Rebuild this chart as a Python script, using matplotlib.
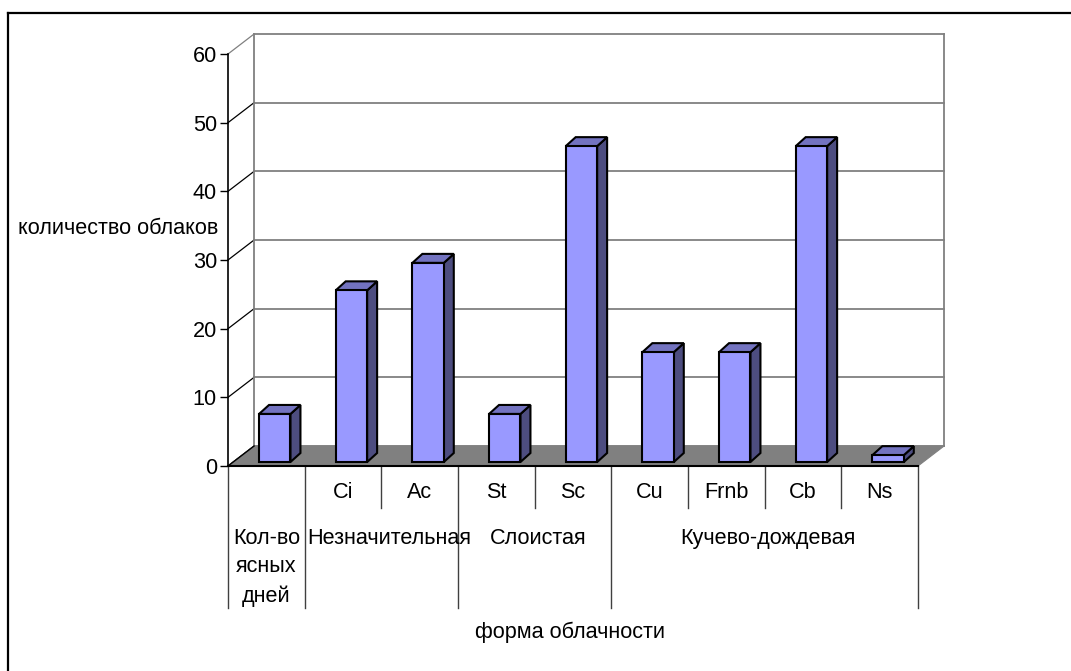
import matplotlib.pyplot as plt
from matplotlib.patches import Polygon

plt.rcParams['font.family'] = ['Liberation Sans', 'DejaVu Sans']

# облачность по формам
categories = ['', 'Ci', 'Ac', 'St', 'Sc', 'Cu', 'Frnb', 'Cb', 'Ns']
values = [7, 25, 29, 7, 46, 16, 16, 46, 1]
groups = ['Кол-во\nясных\nдней', 'Незначительная', 'Слоистая', 'Кучево-дождевая']
group_sizes = [1, 2, 2, 4]
yticks = [0, 10, 20, 30, 40, 50, 60]

W, H = 1071, 671
fig = plt.figure(figsize=(W / 100, H / 100), dpi=100)
fig.patch.set_facecolor('white')
fs = 15.6

# передняя плоскость диаграммы
ax = fig.add_axes([228 / W, (H - 466) / H, 690 / W, 412 / H])
ax.set_xlim(0, len(categories))
ax.set_ylim(0, 60)
ax.patch.set_alpha(0)
for s in ['top', 'right']:
    ax.spines[s].set_visible(False)
ax.spines['left'].set_color('black')
ax.spines['left'].set_linewidth(1.2)
ax.spines['bottom'].set_color('black')
ax.spines['bottom'].set_linewidth(1.5)
ax.spines['bottom'].set_zorder(6)
ax.set_xticks([])
ax.set_yticks(yticks)
ax.tick_params(axis='y', direction='out', length=6, width=1, pad=2, labelsize=fs)

n = len(categories)
DX, DY = 0.34, 2.91  # глубина стенок
gray = '#808080'

# задняя стенка и сетка
for v in yticks:
    ax.plot([DX, n + DX], [v + DY, v + DY], color=gray, lw=1.3, zorder=1, clip_on=False)
    ax.plot([0, DX], [v, v + DY], color=gray if v == 60 else 'black', lw=0.9,
            zorder=1, clip_on=False)
ax.plot([DX, DX], [DY, 60 + DY], color=gray, lw=1.3, zorder=1, clip_on=False)
ax.plot([n + DX, n + DX], [DY, 60 + DY], color=gray, lw=1.3, zorder=1, clip_on=False)

# пол
ax.add_patch(Polygon([(0, 0), (n, 0), (n + DX, DY), (DX, DY)], closed=True,
                     facecolor=gray, edgecolor=gray, lw=0.8, zorder=2, clip_on=False))
ax.plot([0, DX], [0, DY], color='black', lw=1, zorder=3, clip_on=False)

# столбики
bw, shift, base = 0.41, 0.11, 0.58
bx, by = 0.13, 1.31
for i, v in enumerate(values):
    x0 = i + 0.5 + shift - bw / 2
    x1 = x0 + bw
    y0, y1 = base, base + v
    kw = dict(closed=True, edgecolor='black', lw=1.5, joinstyle='miter',
              zorder=4, clip_on=False)
    ax.add_patch(Polygon([(x1, y0), (x1 + bx, y0 + by), (x1 + bx, y1 + by), (x1, y1)],
                         facecolor='#4D4D80', **kw))
    ax.add_patch(Polygon([(x0, y1), (x1, y1), (x1 + bx, y1 + by), (x0 + bx, y1 + by)],
                         facecolor='#7373C0', **kw))
    ax.add_patch(Polygon([(x0, y0), (x1, y0), (x1, y1), (x0, y1)],
                         facecolor='#9999FF', **kw))

# подписи категорий в два уровня
bounds = [0]
for g in group_sizes:
    bounds.append(bounds[-1] + g)
for i in range(n + 1):
    low = -20.7 if i in bounds else -6.1
    ax.plot([i, i], [0, low], color='#404040', lw=1, zorder=3, clip_on=False)

for i, c in enumerate(categories):
    ax.text(i + 0.5, -3.9, c, ha='center', va='center', fontsize=fs, clip_on=False)

label_dx = [0, 0.1, 0.05, 0.04]
for k, g in enumerate(groups):
    xc = (bounds[k] + bounds[k + 1]) / 2 + label_dx[k]
    for j, line in enumerate(g.split('\n')):
        ax.text(xc, -10.5 - 4.2 * j, line, ha='center', va='center', fontsize=fs,
                clip_on=False)

fig.text(118 / W, 1 - 228 / H, 'количество облаков', ha='center', va='center', fontsize=fs)
fig.text(570 / W, 1 - 632 / H, 'форма облачности', ha='center', va='center', fontsize=fs)

# рамка области диаграммы
fig.add_artist(plt.Line2D([8 / W, 1], [1 - 13 / H, 1 - 13 / H], color='black', lw=1.6,
                          transform=fig.transFigure))
fig.add_artist(plt.Line2D([8 / W, 8 / W], [0, 1 - 13 / H], color='black', lw=1.6,
                          transform=fig.transFigure))

fig.savefig('out.png', dpi=100)
